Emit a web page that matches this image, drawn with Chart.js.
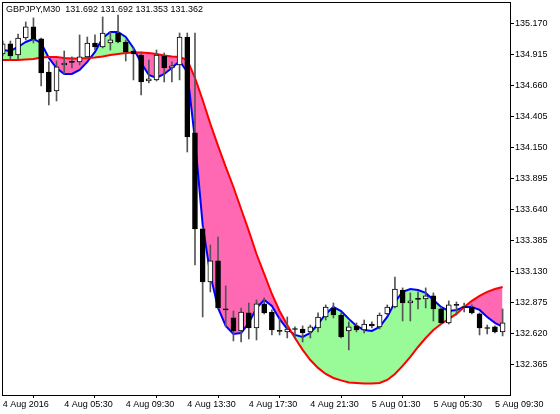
<!DOCTYPE html>
<html>
<head>
<meta charset="utf-8">
<script src="https://cdn.jsdelivr.net/npm/chart.js@4/dist/chart.umd.min.js"></script>
<style>
  body { margin: 0; background: #fff; }
  #wrap { position: relative; width: 560px; height: 414px; }
  #title { position: absolute; left: 6px; top: 4px; font: 9px 'Liberation Sans', sans-serif; line-height: 11px; color: #000; white-space: pre; }
</style>
</head>
<body>
<div id="wrap">
  <canvas id="chart" width="560" height="414"></canvas>
  <div id="title">GBPJPY,M30  131.692 131.692 131.353 131.362</div>
</div>
<script>
// GBPJPY M30 bars, 4 Aug 01:30 .. 5 Aug 10:00
const open = [134.918, 135.000, 134.909, 135.049, 135.140, 135.041, 134.769, 134.613, 134.827, 134.852,
  134.852, 134.893, 135.008, 134.975, 135.008, 135.090, 135.016, 134.942, 134.909, 134.695,
  134.704, 134.901, 134.802, 134.827, 135.057, 134.268, 133.478, 133.042, 133.215, 132.820,
  132.746, 132.639, 132.787, 132.664, 132.861, 132.795, 132.639, 132.631, 132.655, 132.655,
  132.631, 132.664, 132.754, 132.828, 132.770, 132.639, 132.680, 132.647, 132.696, 132.672,
  132.779, 132.836, 132.976, 132.869, 132.902, 132.902, 132.927, 132.820, 132.705, 132.853,
  132.836, 132.836, 132.779, 132.664, 132.672, 132.631];
const high = [135.024, 135.024, 135.082, 135.181, 135.214, 135.049, 134.852, 134.860, 134.942, 134.893,
  135.074, 135.057, 135.074, 135.222, 135.098, 135.238, 135.033, 134.967, 134.934, 134.868,
  134.950, 134.926, 134.852, 135.090, 135.090, 135.090, 133.494, 133.346, 133.412, 133.009,
  132.803, 132.828, 132.869, 132.894, 132.910, 132.812, 132.746, 132.754, 132.672, 132.680,
  132.688, 132.787, 132.853, 132.869, 132.787, 132.713, 132.705, 132.729, 132.713, 132.787,
  132.853, 133.083, 132.993, 132.952, 132.960, 132.993, 132.952, 132.836, 132.886, 132.877,
  132.869, 132.853, 132.787, 132.688, 132.680, 132.820];
const low = [134.901, 134.876, 134.876, 135.033, 135.008, 134.654, 134.498, 134.531, 134.753, 134.802,
  134.827, 134.876, 134.950, 134.967, 134.950, 135.008, 134.860, 134.704, 134.580, 134.679,
  134.695, 134.687, 134.687, 134.704, 134.111, 133.182, 132.754, 132.960, 132.820, 132.672,
  132.557, 132.548, 132.573, 132.565, 132.779, 132.606, 132.606, 132.581, 132.581, 132.548,
  132.581, 132.631, 132.729, 132.746, 132.581, 132.483, 132.631, 132.622, 132.664, 132.655,
  132.770, 132.828, 132.721, 132.721, 132.820, 132.828, 132.721, 132.696, 132.696, 132.770,
  132.795, 132.779, 132.606, 132.614, 132.622, 132.598];
const close = [135.000, 134.901, 135.049, 135.140, 135.041, 134.761, 134.605, 134.811, 134.843, 134.848,
  134.893, 135.008, 134.975, 135.090, 135.033, 135.016, 134.934, 134.918, 134.687, 134.712,
  134.909, 134.802, 134.819, 135.057, 134.235, 133.478, 133.042, 133.215, 132.828, 132.812,
  132.639, 132.795, 132.664, 132.861, 132.787, 132.647, 132.635, 132.655, 132.651, 132.622,
  132.672, 132.754, 132.836, 132.770, 132.590, 132.672, 132.647, 132.696, 132.680, 132.770,
  132.836, 132.984, 132.869, 132.886, 132.898, 132.927, 132.820, 132.705, 132.853, 132.849,
  132.832, 132.787, 132.664, 132.659, 132.631, 132.705];

// indicator lines (blue = fast, red = slow)
const fastLine = [134.950, 134.942, 134.975, 135.016, 135.041, 135.008, 134.885, 134.802, 134.753, 134.753,
  134.786, 134.852, 134.934, 135.049, 135.098, 135.098, 135.057, 134.967, 134.844, 134.745,
  134.720, 134.753, 134.802, 134.860, 134.769, 134.210, 133.511, 133.100, 132.828, 132.680,
  132.614, 132.622, 132.705, 132.828, 132.894, 132.845, 132.738, 132.655, 132.606, 132.590,
  132.622, 132.696, 132.779, 132.836, 132.803, 132.738, 132.680, 132.647, 132.639, 132.672,
  132.754, 132.877, 132.960, 132.984, 132.976, 132.952, 132.894, 132.836, 132.803, 132.812,
  132.836, 132.836, 132.812, 132.754, 132.705, 132.672];
const slowLine = [134.868, 134.868, 134.868, 134.872, 134.876, 134.889, 134.893, 134.893, 134.885, 134.881,
  134.881, 134.885, 134.889, 134.897, 134.909, 134.918, 134.926, 134.930, 134.930, 134.926,
  134.918, 134.905, 134.897, 134.893, 134.868, 134.720, 134.539, 134.342, 134.161, 133.988,
  133.823, 133.642, 133.462, 133.272, 133.108, 132.943, 132.803, 132.688, 132.581, 132.483,
  132.400, 132.335, 132.285, 132.252, 132.232, 132.215, 132.211, 132.207, 132.207, 132.211,
  132.236, 132.285, 132.351, 132.425, 132.507, 132.581, 132.647, 132.696, 132.738, 132.779,
  132.836, 132.886, 132.927, 132.960, 132.984, 133.001];

// axis ticks
const timeTickBars = [0, 8, 16, 24, 32, 40, 48, 56, 64];
const timeTickLabels = ['4 Aug 2016', '4 Aug 05:30', '4 Aug 09:30', '4 Aug 13:30', '4 Aug 17:30',
  '4 Aug 21:30', '5 Aug 01:30', '5 Aug 05:30', '5 Aug 09:30'];
const priceTicks = [132.365, 132.620, 132.875, 133.130, 133.385, 133.640, 133.895, 134.150,
  134.405, 134.660, 134.915, 135.170];

Chart.defaults.font.family = "'Liberation Sans', sans-serif";
Chart.defaults.font.size = 9;
Chart.defaults.color = '#000';

// black frame round the plot
const framePlugin = {
  id: 'frame',
  afterDraw(chart) {
    const { ctx, chartArea: a } = chart;
    ctx.save();
    ctx.strokeStyle = '#000';
    ctx.lineWidth = 1;
    ctx.strokeRect(a.left + 0.5, a.top + 0.5, a.right - a.left, a.bottom - a.top);
    ctx.restore();
  }
};

const ctx = document.getElementById('chart').getContext('2d');
new Chart(ctx, {
  type: 'bar',
  data: {
    datasets: [
      {
        type: 'line',
        data: slowLine.map((v, i) => ({ x: i, y: v })),
        borderColor: '#ff0000',
        borderWidth: 2,
        pointRadius: 0,
        fill: false,
        order: 2
      },
      {
        type: 'line',
        data: fastLine.map((v, i) => ({ x: i, y: v })),
        borderColor: '#0000ff',
        borderWidth: 2,
        pointRadius: 0,
        fill: { target: 0, above: '#98fb98', below: '#ff69b4' },
        order: 3
      },
      {
        // wicks
        data: low.map((v, i) => ({ x: i, y: [v, high[i]] })),
        backgroundColor: '#555',
        barThickness: 1,
        grouped: false,
        order: 1
      },
      {
        // bodies
        data: open.map((v, i) => ({ x: i, y: [v, close[i]] })),
        backgroundColor: open.map((v, i) => close[i] > v ? '#fff' : '#000'),
        borderColor: '#000',
        borderWidth: 1,
        borderSkipped: false,
        barThickness: 5,
        minBarLength: 1,
        grouped: false,
        order: 0
      }
    ]
  },
  options: {
    responsive: false,
    animation: false,
    events: [],
    devicePixelRatio: 1,
    layout: { padding: { left: 2, top: 2, right: 0, bottom: 0 } },
    plugins: { legend: { display: false }, tooltip: { enabled: false } },
    scales: {
      x: {
        type: 'linear',
        position: 'bottom',
        offset: false,
        min: -0.09,
        max: 65.96,
        afterBuildTicks: s => { s.ticks = timeTickBars.map(v => ({ value: v })); },
        afterFit: s => { s.height = 19; s.paddingLeft = 0; s.paddingRight = 0; },
        border: { display: false },
        grid: { drawOnChartArea: false, drawTicks: true, tickLength: 3, color: '#000' },
        ticks: {
          autoSkip: false,
          maxRotation: 0,
          align: 'start',
          padding: 1,
          callback: (v, i) => timeTickLabels[i]
        }
      },
      y: {
        type: 'linear',
        position: 'right',
        min: 132.112,
        max: 135.345,
        afterBuildTicks: s => { s.ticks = priceTicks.map(v => ({ value: v })); },
        afterFit: s => { s.width = 50; s.paddingTop = 0; s.paddingBottom = 0; },
        border: { display: false },
        grid: { drawOnChartArea: false, drawTicks: true, tickLength: 4, color: '#000' },
        ticks: {
          padding: 1,
          callback: v => v.toFixed(3)
        }
      }
    }
  },
  plugins: [framePlugin]
});
</script>
</body>
</html>
